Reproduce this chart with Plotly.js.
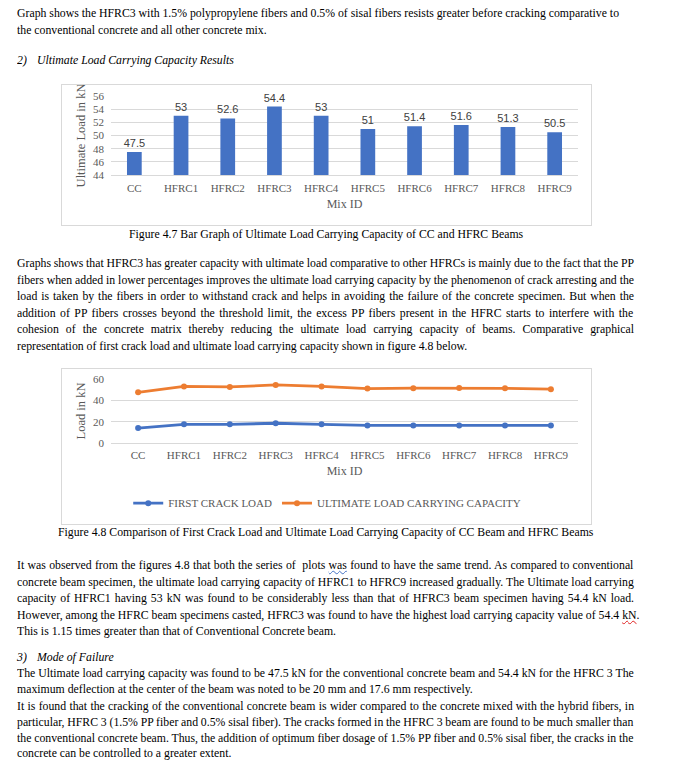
<!DOCTYPE html>
<html>
<head>
<meta charset="utf-8">
<script src="https://cdn.plot.ly/plotly-3.0.1.min.js"></script>
<style>
  html, body { margin:0; padding:0; background:#fff; }
  #page { position:relative; width:677px; height:760px; overflow:hidden; background:#fff; }
  .ln { position:absolute; white-space:pre; font-family:"Liberation Serif","Times New Roman",serif; font-size:13px; line-height:14px; color:#000; transform-origin:0 50%; }
  .box { position:absolute; border:1px solid #d9d9d9; box-sizing:border-box; pointer-events:none; }
  .chart { position:absolute; }
  .wb { text-decoration: underline wavy #4472C4; text-decoration-thickness:1px; }
  .wr { text-decoration: underline wavy #e02020; text-decoration-thickness:1px; }
</style>
</head>
<body>
<div id="page">
  <div id="chart1" class="chart" style="left:61px;top:84px;width:530px;height:141px;"></div>
  <div class="box" style="left:61px;top:84px;width:531px;height:142px;"></div>
  <div id="chart2" class="chart" style="left:61px;top:368px;width:530px;height:156px;"></div>
  <div class="box" style="left:61px;top:368px;width:531px;height:157px;"></div>
</div>
<script>
// ---- data ----
const mixIds = ['CC','HFRC1','HFRC2','HFRC3','HFRC4','HFRC5','HFRC6','HFRC7','HFRC8','HFRC9'];
const ultimateLoad = [47.5, 53, 52.6, 54.4, 53, 51, 51.4, 51.6, 51.3, 50.5];
const firstCrackLoad = [14, 17.5, 17.5, 18.5, 17.5, 16.5, 16.5, 16.5, 16.5, 16.5];
const barTickVals = [44, 46, 48, 50, 52, 54, 56];
const lineTickVals = [0, 20, 40, 60];

// ---- document text ----
const textLines = [
  {t:'Graph shows the HFRC3 with 1.5% polypropylene fibers and 0.5% of sisal fibers resists greater before cracking comparative to', y:13},
  {t:'the conventional concrete and all other concrete mix.', y:30},
  {t:'2)', y:60, i:true},
  {t:'Ultimate Load Carrying Capacity Results', y:60, i:true, x:37},
  {t:'Figure 4.7 Bar Graph of Ultimate Load Carrying Capacity of CC and HFRC Beams', y:234, c:326},
  {t:'Graphs shows that HFRC3 has greater capacity with ultimate load comparative to other HFRCs is mainly due to the fact that the PP', y:263, j:true},
  {t:'fibers when added in lower percentages improves the ultimate load carrying capacity by the phenomenon of crack arresting and the', y:279.5, j:true},
  {t:'load is taken by the fibers in order to withstand crack and helps in avoiding the failure of the concrete specimen. But when the', y:296, j:true},
  {t:'addition of PP fibers crosses beyond the threshold limit, the excess PP fibers present in the HFRC starts to interfere with the', y:312.5, j:true},
  {t:'cohesion of the concrete matrix thereby reducing the ultimate load carrying capacity of beams. Comparative graphical', y:329, j:true},
  {t:'representation of first crack load and ultimate load carrying capacity shown in figure 4.8 below.', y:345.5},
  {t:'Figure 4.8 Comparison of First Crack Load and Ultimate Load Carrying Capacity of CC Beam and HFRC Beams', y:532, c:326},
  {t:'It was observed from the figures 4.8 that both the series of  plots [was] found to have the same trend. As compared to conventional', y:565, j:true},
  {t:'concrete beam specimen, the ultimate load carrying capacity of HFRC1 to HFRC9 increased gradually. The Ultimate load carrying', y:581.5, j:true},
  {t:'capacity of HFRC1 having 53 kN was found to be considerably less than that of HFRC3 beam specimen having 54.4 kN load.', y:598, j:true},
  {t:'However, among the HFRC beam specimens casted, HFRC3 was found to have the highest load carrying capacity value of 54.4 {kN}.', y:614.5},
  {t:'This is 1.15 times greater than that of Conventional Concrete beam.', y:631},
  {t:'3)', y:657, i:true},
  {t:'Mode of Failure', y:657, i:true, x:37},
  {t:'The Ultimate load carrying capacity was found to be 47.5 kN for the conventional concrete beam and 54.4 kN for the HFRC 3 The', y:673, j:true},
  {t:'maximum deflection at the center of the beam was noted to be 20 mm and 17.6 mm respectively.', y:689},
  {t:'It is found that the cracking of the conventional concrete beam is wider compared to the concrete mixed with the hybrid fibers, in', y:705.5, j:true},
  {t:'particular, HFRC 3 (1.5% PP fiber and 0.5% sisal fiber). The cracks formed in the HFRC 3 beam are found to be much smaller than', y:721.5, j:true},
  {t:'the conventional concrete beam. Thus, the addition of optimum fiber dosage of 1.5% PP fiber and 0.5% sisal fiber, the cracks in the', y:737.5, j:true},
  {t:'concrete can be controlled to a greater extent.', y:752.5}
];

const page = document.getElementById('page');
const cv = document.createElement('canvas').getContext('2d');
function plain(s){ return s.replace(/[\[\]{}]/g,''); }
function measure(s, italic){ cv.font = (italic?'italic ':'') + '13px "Liberation Serif"'; return cv.measureText(s).width; }
const LEFT = 17, FIRST_W = 602, JUST_W = 617;
const scale = FIRST_W / measure(textLines[0].t, false);
textLines.forEach(L => {
  const d = document.createElement('div');
  d.className = 'ln';
  const html = L.t.replace(/&/g,'&amp;').replace(/\[(.*?)\]/g,'<span class="wb">$1</span>').replace(/\{(.*?)\}/g,'<span class="wr">$1</span>');
  d.innerHTML = html;
  if (L.i) d.style.fontStyle = 'italic';
  const w = measure(plain(L.t), L.i);
  let x = (L.x !== undefined) ? L.x : LEFT;
  if (L.c !== undefined) x = L.c - w*scale/2;
  if (L.j) {
    const spaces = (plain(L.t).match(/ /g) || []).length;
    const extra = (JUST_W/scale - w) / spaces;
    d.style.wordSpacing = extra.toFixed(3) + 'px';
  }
  d.style.left = x + 'px';
  d.style.top = (L.y - 7) + 'px';
  d.style.transform = 'scaleX(' + scale.toFixed(4) + ')';
  page.appendChild(d);
});

// ---- charts ----
const serif = '"Liberation Serif","Times New Roman",serif';
const gray = '#595959';
const cfg = {displayModeBar:false, staticPlot:true, responsive:false};

Plotly.newPlot('chart1', [{
  type:'bar', x:mixIds, y:ultimateLoad,
  marker:{color:'#4472C4'},
  text:ultimateLoad.map(String), textposition:'outside', cliponaxis:false, constraintext:'none',
  textfont:{family:'"Liberation Sans",Arial,sans-serif', size:11, color:'#404040'},
  hoverinfo:'none'
}], {
  width:530, height:141,
  margin:{l:50, r:13, t:12, b:50},
  paper_bgcolor:'#fff', plot_bgcolor:'#fff',
  bargap:0.685,
  showlegend:false,
  xaxis:{
    tickfont:{family:serif, size:11, color:gray},
    showline:true, linecolor:'#d9d9d9', linewidth:1, ticks:'',
    ticklabelstandoff:3,
    title:{text:'Mix ID', font:{family:serif, size:12, color:gray}, standoff:6},
    automargin:false
  },
  yaxis:{
    range:[44,56], tickvals:barTickVals, ticktext:barTickVals.map(String),
    tickfont:{family:serif, size:11, color:gray},
    showgrid:true, gridcolor:'#d9d9d9', gridwidth:1, zeroline:false, ticks:'',
    ticklabelstandoff:6,
    title:{text:'Ultimate Load in kN', font:{family:serif, size:12.5, color:gray}, standoff:4},
    automargin:false
  }
}, cfg);

Plotly.newPlot('chart2', [{
  type:'scatter', mode:'lines+markers', name:'FIRST CRACK LOAD',
  x:mixIds, y:firstCrackLoad,
  line:{color:'#4472C4', width:2.8}, marker:{color:'#4472C4', size:6},
  hoverinfo:'none'
},{
  type:'scatter', mode:'lines+markers', name:'ULTIMATE LOAD CARRYING CAPACITY',
  x:mixIds, y:ultimateLoad,
  line:{color:'#ED7D31', width:2.8}, marker:{color:'#ED7D31', size:6},
  hoverinfo:'none'
}], {
  width:530, height:156,
  margin:{l:50, r:13, t:11, b:76},
  paper_bgcolor:'#fff', plot_bgcolor:'#fff',
  showlegend:true,
  legend:{orientation:'h', x:0.463, xanchor:'center', y:-0.94, yanchor:'middle',
    font:{family:serif, size:11, color:gray}, itemwidth:30, tracegroupgap:0},
  xaxis:{
    tickfont:{family:serif, size:11, color:gray},
    showline:false, ticks:'', showgrid:false,
    ticklabelstandoff:4,
    title:{text:'Mix ID', font:{family:serif, size:12, color:gray}, standoff:6},
    automargin:false
  },
  yaxis:{
    range:[0,60], tickvals:lineTickVals, ticktext:lineTickVals.map(String),
    tickfont:{family:serif, size:11, color:gray},
    showgrid:true, gridcolor:'#d9d9d9', gridwidth:1, zeroline:true, zerolinecolor:'#d9d9d9', ticks:'',
    ticklabelstandoff:6,
    title:{text:'Load in kN', font:{family:serif, size:12.5, color:gray}, standoff:4},
    automargin:false
  }
}, cfg);
</script>
</body>
</html>
